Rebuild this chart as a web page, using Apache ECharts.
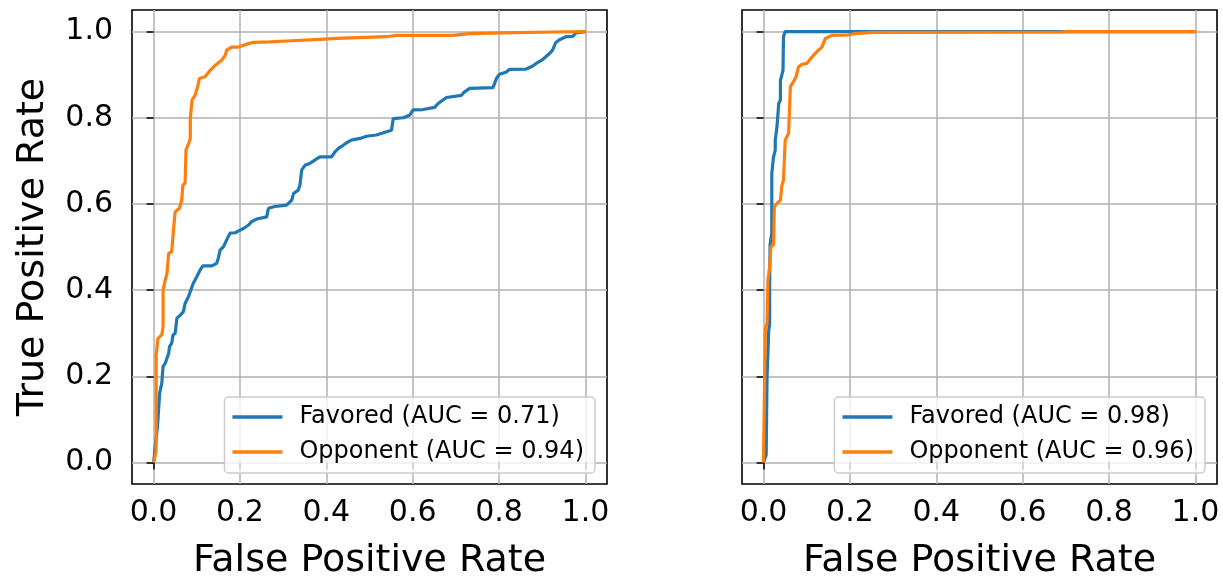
<!DOCTYPE html>
<html>
<head>
    <meta charset="UTF-8">
    <title>ROC curves</title>
    <script src="https://cdn.jsdelivr.net/npm/echarts@6/dist/echarts.min.js"></script>
    <style>
        html, body { margin: 0; padding: 0; background: #fff; }
        #chart { width: 1223px; height: 581px; }
    </style>
</head>
<body>
<div id="chart"></div>
<script>
    // ROC points: [fpr, tpr]
    var favoredLeft = [
        [0, 0], [0.004, 0.037], [0.009, 0.083], [0.014, 0.161], [0.019, 0.184], [0.022, 0.223],
        [0.027, 0.230], [0.031, 0.242], [0.035, 0.253], [0.037, 0.269], [0.042, 0.277], [0.045, 0.296],
        [0.050, 0.300], [0.054, 0.335], [0.062, 0.342], [0.069, 0.350], [0.073, 0.369], [0.081, 0.385],
        [0.089, 0.408], [0.092, 0.416], [0.100, 0.431], [0.108, 0.447], [0.114, 0.456], [0.135, 0.456],
        [0.146, 0.462], [0.150, 0.474], [0.154, 0.493], [0.162, 0.501], [0.169, 0.516], [0.177, 0.532],
        [0.189, 0.533], [0.200, 0.539], [0.208, 0.543], [0.220, 0.551], [0.227, 0.559], [0.239, 0.565],
        [0.262, 0.570], [0.266, 0.590], [0.281, 0.594], [0.308, 0.597], [0.320, 0.609], [0.324, 0.624],
        [0.335, 0.632], [0.339, 0.644], [0.343, 0.679], [0.351, 0.690], [0.362, 0.694], [0.374, 0.702],
        [0.385, 0.709], [0.412, 0.709], [0.420, 0.721], [0.428, 0.729], [0.439, 0.736], [0.447, 0.742],
        [0.458, 0.748], [0.478, 0.752], [0.493, 0.757], [0.516, 0.760], [0.532, 0.765], [0.551, 0.771],
        [0.555, 0.798], [0.578, 0.800], [0.593, 0.806], [0.601, 0.818], [0.624, 0.819], [0.651, 0.824],
        [0.659, 0.833], [0.670, 0.841], [0.678, 0.847], [0.713, 0.852], [0.720, 0.860], [0.732, 0.868],
        [0.786, 0.870], [0.794, 0.891], [0.801, 0.901], [0.817, 0.906], [0.824, 0.912], [0.863, 0.913],
        [0.878, 0.920], [0.886, 0.926], [0.901, 0.935], [0.917, 0.949], [0.924, 0.957], [0.931, 0.974],
        [0.940, 0.981], [0.955, 0.988], [0.971, 0.989], [0.978, 0.997], [1, 1]
    ];
    var opponentLeft = [
        [0, 0], [0.006, 0.026], [0.006, 0.250], [0.010, 0.288], [0.019, 0.296], [0.022, 0.315],
        [0.022, 0.400], [0.027, 0.423], [0.031, 0.439], [0.035, 0.485], [0.042, 0.489], [0.046, 0.539],
        [0.050, 0.582], [0.060, 0.590], [0.065, 0.609], [0.068, 0.644], [0.073, 0.648], [0.075, 0.725],
        [0.081, 0.740], [0.085, 0.752], [0.085, 0.798], [0.089, 0.841], [0.096, 0.852], [0.102, 0.872],
        [0.106, 0.891], [0.119, 0.895], [0.131, 0.910], [0.143, 0.922], [0.158, 0.934], [0.166, 0.945],
        [0.169, 0.957], [0.181, 0.964], [0.196, 0.964], [0.220, 0.972], [0.231, 0.975], [0.270, 0.976],
        [0.308, 0.978], [0.385, 0.982], [0.424, 0.984], [0.539, 0.988], [0.562, 0.991], [0.693, 0.991],
        [0.732, 0.995], [0.809, 0.997], [0.924, 0.999], [1, 1]
    ];
    var favoredRight = [
        [0, 0], [0.006, 0.018], [0.008, 0.199], [0.012, 0.308], [0.014, 0.319], [0.014, 0.408],
        [0.015, 0.505], [0.019, 0.532], [0.019, 0.578], [0.019, 0.671], [0.023, 0.709], [0.027, 0.725],
        [0.027, 0.748], [0.031, 0.779], [0.035, 0.833], [0.039, 0.841], [0.039, 0.887], [0.045, 0.910],
        [0.046, 0.988], [0.050, 1], [1, 1]
    ];
    var opponentRight = [
        [0, 0], [0, 0.026], [0.004, 0.308], [0.008, 0.323], [0.010, 0.423], [0.014, 0.454],
        [0.017, 0.501], [0.023, 0.505], [0.025, 0.594], [0.031, 0.601], [0.039, 0.609], [0.042, 0.640],
        [0.046, 0.655], [0.050, 0.748], [0.058, 0.764], [0.060, 0.818], [0.062, 0.872], [0.069, 0.883],
        [0.075, 0.895], [0.081, 0.918], [0.089, 0.924], [0.100, 0.926], [0.112, 0.941], [0.123, 0.953],
        [0.135, 0.964], [0.143, 0.984], [0.158, 0.991], [0.196, 0.992], [0.208, 0.995], [0.254, 0.998],
        [0.690, 0.999], [0.700, 1], [1, 1]
    ];
    var tickValues = [0, 0.2, 0.4, 0.6, 0.8, 1.0];
    var namesLeft = ['Favored (AUC = 0.71)', 'Opponent (AUC = 0.94)'];
    var namesRight = ['Favored (AUC = 0.98)', 'Opponent (AUC = 0.96)'];

    var font = 'DejaVu Sans';
    var blue = '#1f77b4', orange = '#ff7f0e';

    function xAxis(idx) {
        return {
            type: 'value', gridIndex: idx, min: -0.05, max: 1.05,
            name: 'False Positive Rate', nameLocation: 'middle', nameGap: 58,
            nameTextStyle: { fontFamily: font, fontSize: 38, color: '#000' },
            axisLine: { show: false },
            axisTick: { show: true, length: 7, customValues: tickValues, lineStyle: { color: '#000', width: 1.5 } },
            axisLabel: { customValues: tickValues, margin: 14, fontFamily: font, fontSize: 30, color: '#000',
                formatter: function (v) { return v.toFixed(1); } },
            splitLine: { show: true, lineStyle: { color: '#b0b0b0', width: 1.5 } }
        };
    }
    function yAxis(idx, labels) {
        return {
            type: 'value', gridIndex: idx, min: -0.05, max: 1.05,
            name: labels ? 'True Positive Rate' : '', nameLocation: 'middle', nameGap: 80,
            nameTextStyle: { fontFamily: font, fontSize: 38, color: '#000' },
            axisLine: { show: false },
            axisTick: { show: true, length: 7, customValues: tickValues, lineStyle: { color: '#000', width: 1.5 } },
            axisLabel: { show: labels, customValues: tickValues, margin: 19, fontFamily: font, fontSize: 30, color: '#000',
                formatter: function (v) { return v.toFixed(1); } },
            splitLine: { show: true, lineStyle: { color: '#b0b0b0', width: 1.5 } }
        };
    }
    function legend(names, right) {
        return {
            data: names, orient: 'vertical', right: right, top: 397,
            icon: 'rect', itemWidth: 50, itemHeight: 3.5, itemGap: 11,
            padding: [8, 11, 9, 8],
            backgroundColor: 'rgba(255,255,255,0.8)', borderColor: '#cccccc', borderWidth: 1.5, borderRadius: 4,
            textStyle: { fontFamily: font, fontSize: 24, color: '#000', padding: [0, 0, 0, 12] }
        };
    }
    function line(name, data, color, x) {
        return {
            name: name, type: 'line', data: data, xAxisIndex: x, yAxisIndex: x,
            showSymbol: false, symbol: 'none', animation: false,
            lineStyle: { color: color, width: 3.2 }, itemStyle: { color: color }
        };
    }
    function grid(left) {
        return {
            left: left, top: 10, width: 475, height: 474, show: true, outerBoundsMode: 'none', containLabel: false,
            borderColor: '#000', borderWidth: 1.6, backgroundColor: 'transparent'
        };
    }

    var chart = echarts.init(document.getElementById('chart'), null, { renderer: 'canvas' });
    chart.setOption({
        animation: false,
        backgroundColor: '#fff',
        grid: [grid(132), grid(742)],
        xAxis: [xAxis(0), xAxis(1)],
        yAxis: [yAxis(0, true), yAxis(1, false)],
        legend: [legend(namesLeft, 628), legend(namesRight, 18)],
        series: [
            line(namesLeft[0], favoredLeft, blue, 0),
            line(namesLeft[1], opponentLeft, orange, 0),
            line(namesRight[0], favoredRight, blue, 1),
            line(namesRight[1], opponentRight, orange, 1)
        ]
    });
</script>
</body>
</html>
